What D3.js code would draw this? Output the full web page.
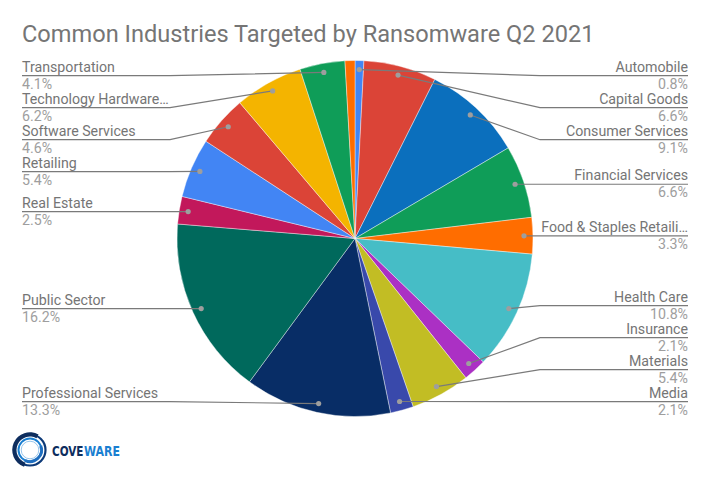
<!DOCTYPE html>
<html>
<head>
<meta charset="utf-8">
<script src="https://cdn.jsdelivr.net/npm/d3@7/dist/d3.min.js"></script>
<style>
  html, body { margin: 0; padding: 0; background: #fff; }
  svg { display: block; font-family: Roboto, "Noto Sans", sans-serif; }
</style>
</head>
<body>
<svg id="chart" width="710" height="482"></svg>
<script>
const categories = [
  "Automobile", "Capital Goods", "Consumer Services", "Financial Services",
  "Food & Staples Retaili…", "Health Care", "Insurance", "Materials", "Media",
  "Professional Services", "Public Sector", "Real Estate", "Retailing",
  "Software Services", "Technology Hardware…", "Transportation", ""
];
const values = [0.8, 6.6, 9.1, 6.6, 3.3, 10.8, 2.1, 5.4, 2.1, 13.3, 16.2, 2.5, 5.4, 4.6, 6.2, 4.1, 0.9];
const percentLabels = ["0.8%", "6.6%", "9.1%", "6.6%", "3.3%", "10.8%", "2.1%", "5.4%", "2.1%",
  "13.3%", "16.2%", "2.5%", "5.4%", "4.6%", "6.2%", "4.1%", ""];
const colors = ["#4285f4", "#db4437", "#0b6fbd", "#0f9d58", "#ff6d00", "#46bdc6", "#ab30c4",
  "#c2bd24", "#3949ab", "#082d66", "#00695c", "#c2185b", "#4285f4", "#db4437", "#f4b400",
  "#0f9d58", "#ff6d00"];
const title = "Common Industries Targeted by Ransomware Q2 2021";
const logoWords = ["COVE", "WARE"];

const svg = d3.select("#chart");
const cx = 355, cy = 238.5, R = 178;

svg.append("text")
  .attr("x", 22).attr("y", 41.5)
  .attr("font-size", 23.6).attr("fill", "#757575")
  .text(title);

const data = categories.map((c, i) => ({ name: c, value: values[i], pct: percentLabels[i], color: colors[i] }));
const pie = d3.pie().value(d => d.value).sort(null).startAngle(0).endAngle(2 * Math.PI);
const arcs = pie(data);
const arc = d3.arc().innerRadius(0).outerRadius(R);
const dotArc = d3.arc().innerRadius(169).outerRadius(169);

const g = svg.append("g").attr("transform", `translate(${cx},${cy})`);
g.selectAll("path.slice").data(arcs).join("path")
  .attr("class", "slice")
  .attr("d", arc)
  .attr("fill", d => d.data.color)
  .attr("stroke", "#fff").attr("stroke-width", 0.4);

// labels
const minY = 75.7, maxY = 401.7, gap = 32;
const items = arcs.filter(a => a.data.name !== "").map(a => {
  const [dx, dy] = dotArc.centroid(a);
  const mid = (a.startAngle + a.endAngle) / 2;
  return { a, dx: cx + dx, dy: cy + dy, side: mid < Math.PI ? "right" : "left" };
});

["left", "right"].forEach(side => {
  const list = items.filter(d => d.side === side).sort((p, q) => p.dy - q.dy);
  list.forEach((d, i) => {
    let y = Math.max(minY, Math.min(maxY, d.dy));
    if (i > 0) y = Math.max(y, list[i - 1].ly + gap);
    d.ly = y;
  });
  for (let i = list.length - 1; i >= 0; i--) {
    let lim = i === list.length - 1 ? maxY : list[i + 1].ly - gap;
    list[i].ly = Math.min(list[i].ly, lim);
  }
});

const lab = svg.append("g");
items.forEach(d => {
  const right = d.side === "right";
  const textX = right ? 688 : 22;
  const elbowX = right ? cx + R + 7 : cx - R - 7;
  const pts = [[d.dx, d.dy]];
  if (right ? d.dx < elbowX : d.dx > elbowX) pts.push([elbowX, d.ly]);
  pts.push([textX, d.ly]);
  lab.append("path")
    .attr("d", d3.line()(pts))
    .attr("fill", "none").attr("stroke", "#7a7a7a").attr("stroke-width", 1.2);
  lab.append("circle")
    .attr("cx", d.dx).attr("cy", d.dy).attr("r", 2.6)
    .attr("fill", "#9e9e9e");
  lab.append("text")
    .attr("x", textX).attr("y", d.ly - 4)
    .attr("text-anchor", right ? "end" : "start")
    .attr("font-size", 14.2).attr("fill", "#757575")
    .text(d.a.data.name);
  lab.append("text")
    .attr("x", textX).attr("y", d.ly + 13)
    .attr("text-anchor", right ? "end" : "start")
    .attr("font-size", 14.2).attr("fill", "#9e9e9e")
    .text(d.a.data.pct);
});

// logo
const logo = svg.append("g").attr("transform", "translate(30,450)");
logo.append("circle").attr("r", 15.5).attr("fill", "none")
  .attr("stroke", "#0d3a78").attr("stroke-width", 2.2);
logo.append("path")
  .attr("d", d3.arc().innerRadius(13.5).outerRadius(17.8).startAngle(-2.8).endAngle(0.5)())
  .attr("fill", "#0d2d5e");
logo.append("circle").attr("r", 11.5).attr("fill", "none")
  .attr("stroke", "#1a7fd1").attr("stroke-width", 2);
logo.append("path")
  .attr("d", d3.arc().innerRadius(10).outerRadius(13).startAngle(1.2).endAngle(3.6)())
  .attr("fill", "#1f6fc0");
logo.append("circle").attr("r", 8.8).attr("fill", "none")
  .attr("stroke", "#7fb7e6").attr("stroke-width", 0.8);

const logoFont = "'Liberation Sans Narrow', 'DejaVu Sans Condensed', sans-serif";
const wordSpec = [{ x: 52, w: 31.5, fill: "#0d2d5e" }, { x: 84, w: 36, fill: "#1a7fd1" }];
logoWords.forEach((word, i) => {
  const s = wordSpec[i];
  const wg = svg.append("g");
  const t = wg.append("text")
    .attr("x", 0).attr("y", 0)
    .attr("font-family", logoFont).attr("font-weight", "bold").attr("font-size", 14.5)
    .attr("fill", s.fill).text(word);
  const natural = t.node().getComputedTextLength();
  wg.attr("transform", `translate(${s.x},456) scale(${s.w / natural},1)`);
});
</script>
</body>
</html>
